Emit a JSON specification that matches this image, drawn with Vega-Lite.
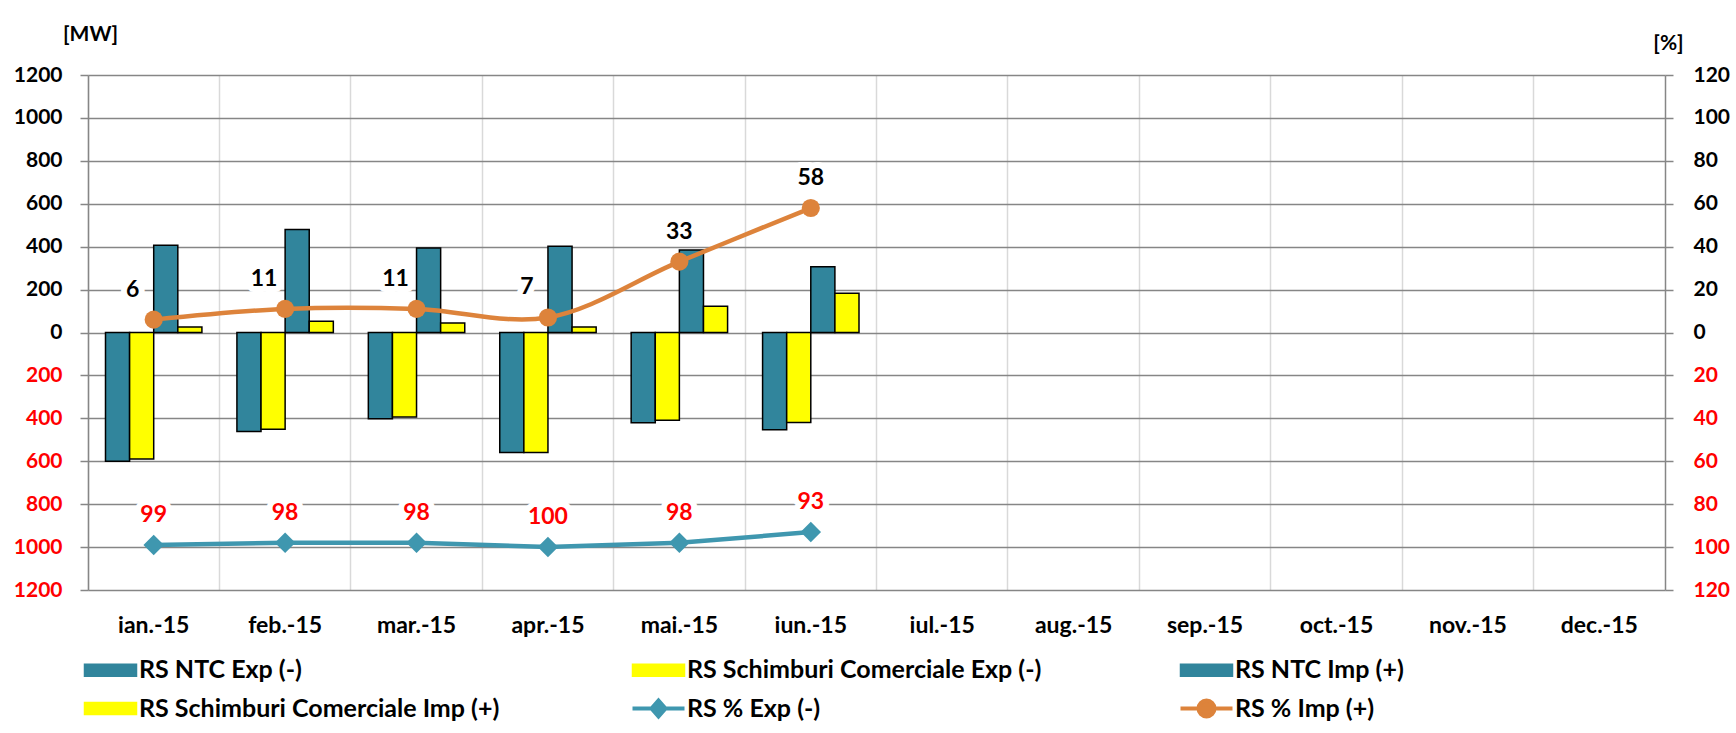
{
  "$schema": "https://vega.github.io/schema/vega-lite/v6.json",
  "width": 1577,
  "height": 515,
  "autosize": {"type": "none"},
  "padding": {"left": 88, "top": 75, "right": 71, "bottom": 143},
  "background": "white",
  "config": {
    "view": {"stroke": null},
    "font": "Lato",
    "axis": {"labelFont": "Lato", "titleFont": "Lato", "labelFontWeight": "bold", "titleFontWeight": "bold"},
    "legend": {"title": null, "orient": "none", "legendX": 10, "legendY": 581, "direction": "horizontal", "columns": 3, "gridAlign": "all", "columnPadding": 124, "rowPadding": 7, "symbolSize": 400, "symbolType": "M-2.6,-0.6H2.6V0.6H-2.6Z", "symbolStrokeColor": "black", "symbolStrokeWidth": 1.5, "labelFont": "Lato", "labelFontSize": 25, "labelFontWeight": "bold", "labelColor": "black", "labelOffset": 16, "labelLimit": 0, "padding": 0}
  },
  "datasets": {
    "bars": [
      {"month": "ian.-15", "series": "RS NTC Exp (-)", "mw": -600},
      {"month": "ian.-15", "series": "RS Schimburi Comerciale Exp (-)", "mw": -590},
      {"month": "ian.-15", "series": "RS NTC Imp (+)", "mw": 407},
      {"month": "ian.-15", "series": "RS Schimburi Comerciale Imp (+)", "mw": 26},
      {"month": "feb.-15", "series": "RS NTC Exp (-)", "mw": -461},
      {"month": "feb.-15", "series": "RS Schimburi Comerciale Exp (-)", "mw": -451},
      {"month": "feb.-15", "series": "RS NTC Imp (+)", "mw": 480},
      {"month": "feb.-15", "series": "RS Schimburi Comerciale Imp (+)", "mw": 52},
      {"month": "mar.-15", "series": "RS NTC Exp (-)", "mw": -402},
      {"month": "mar.-15", "series": "RS Schimburi Comerciale Exp (-)", "mw": -394},
      {"month": "mar.-15", "series": "RS NTC Imp (+)", "mw": 394},
      {"month": "mar.-15", "series": "RS Schimburi Comerciale Imp (+)", "mw": 44},
      {"month": "apr.-15", "series": "RS NTC Exp (-)", "mw": -559},
      {"month": "apr.-15", "series": "RS Schimburi Comerciale Exp (-)", "mw": -559},
      {"month": "apr.-15", "series": "RS NTC Imp (+)", "mw": 402},
      {"month": "apr.-15", "series": "RS Schimburi Comerciale Imp (+)", "mw": 26},
      {"month": "mai.-15", "series": "RS NTC Exp (-)", "mw": -420},
      {"month": "mai.-15", "series": "RS Schimburi Comerciale Exp (-)", "mw": -409},
      {"month": "mai.-15", "series": "RS NTC Imp (+)", "mw": 385},
      {"month": "mai.-15", "series": "RS Schimburi Comerciale Imp (+)", "mw": 122},
      {"month": "iun.-15", "series": "RS NTC Exp (-)", "mw": -453},
      {"month": "iun.-15", "series": "RS Schimburi Comerciale Exp (-)", "mw": -419},
      {"month": "iun.-15", "series": "RS NTC Imp (+)", "mw": 306},
      {"month": "iun.-15", "series": "RS Schimburi Comerciale Imp (+)", "mw": 183}
    ],
    "pct": [
      {"month": "ian.-15", "series": "RS % Exp (-)", "pct": -99, "label": "99"},
      {"month": "feb.-15", "series": "RS % Exp (-)", "pct": -98, "label": "98"},
      {"month": "mar.-15", "series": "RS % Exp (-)", "pct": -98, "label": "98"},
      {"month": "apr.-15", "series": "RS % Exp (-)", "pct": -100, "label": "100"},
      {"month": "mai.-15", "series": "RS % Exp (-)", "pct": -98, "label": "98"},
      {"month": "iun.-15", "series": "RS % Exp (-)", "pct": -93, "label": "93"},
      {"month": "ian.-15", "series": "RS % Imp (+)", "pct": 6, "label": "6"},
      {"month": "feb.-15", "series": "RS % Imp (+)", "pct": 11, "label": "11"},
      {"month": "mar.-15", "series": "RS % Imp (+)", "pct": 11, "label": "11"},
      {"month": "apr.-15", "series": "RS % Imp (+)", "pct": 7, "label": "7"},
      {"month": "mai.-15", "series": "RS % Imp (+)", "pct": 33, "label": "33"},
      {"month": "iun.-15", "series": "RS % Imp (+)", "pct": 58, "label": "58"}
    ]
  },
  "encoding": {
    "x": {
      "field": "month", "type": "nominal", "title": null,
      "scale": {"domain": ["ian.-15","feb.-15","mar.-15","apr.-15","mai.-15","iun.-15","iul.-15","aug.-15","sep.-15","oct.-15","nov.-15","dec.-15"], "paddingInner": 0, "paddingOuter": 0},
      "axis": {"orient": "bottom", "bandPosition": 0, "grid": true, "gridColor": "#D9D9D9", "gridWidth": 1.5, "ticks": false, "domain": false, "labelAngle": 0, "labelPadding": 24, "labelFontSize": 23, "labelColor": "black", "labelFontWeight": "bold"}
    }
  },
  "layer": [
    {
      "data": {"name": "bars"},
      "mark": {"type": "bar", "stroke": "black", "strokeWidth": 1.5},
      "encoding": {
        "xOffset": {"field": "series", "type": "nominal", "scale": {"domain": ["RS NTC Exp (-)", "RS Schimburi Comerciale Exp (-)", "RS NTC Imp (+)", "RS Schimburi Comerciale Imp (+)"], "paddingInner": 0, "paddingOuter": 0.726}},
        "y": {
          "field": "mw", "type": "quantitative",
          "scale": {"domain": [-1200, 1200], "nice": false},
          "axis": {"orient": "left", "values": [-1200,-1000,-800,-600,-400,-200,0,200,400,600,800,1000,1200], "labelExpr": "'' + abs(datum.value)", "labelColor": {"condition": {"test": "datum.value < 0", "value": "#FF0000"}, "value": "black"}, "labelFontSize": 21, "labelPadding": 18, "grid": true, "gridColor": "#868686", "gridWidth": 1.5, "domainColor": "#868686", "domainWidth": 1.5, "tickColor": "#868686", "tickWidth": 1.5, "tickSize": 8, "title": "[MW]", "titleAngle": 0, "titleX": 2, "titleY": -41, "titleAlign": "center", "titleBaseline": "middle", "titleFontSize": 21, "titleColor": "black"}
        },
        "color": {
          "field": "series", "type": "nominal",
          "scale": {"domain": ["RS NTC Exp (-)", "RS Schimburi Comerciale Exp (-)", "RS NTC Imp (+)", "RS Schimburi Comerciale Imp (+)", "RS % Exp (-)", "RS % Imp (+)"], "range": ["#31859C", "#FFFF00", "#31859C", "#FFFF00", "#3F97AF", "#DD833B"]},
          "legend": {"encode": {"symbols": {"update": {"shape": {"signal": "datum.value == 'RS % Exp (-)' ? 'M-2.6,0H2.6M0,-0.8L0.7,0L0,0.8L-0.7,0Z' : (datum.value == 'RS % Imp (+)' ? 'M-2.6,0H2.6M-0.8,0A0.8,0.8 0 1,0 0.8,0A0.8,0.8 0 1,0 -0.8,0Z' : 'M-2.6,-0.6H2.6V0.6H-2.6Z')"}, "stroke": {"signal": "datum.value == 'RS % Exp (-)' ? '#3F97AF' : (datum.value == 'RS % Imp (+)' ? '#DD833B' : 'black')"}, "strokeWidth": {"signal": "datum.value == 'RS % Exp (-)' || datum.value == 'RS % Imp (+)' ? 4 : 1.5"}}}}}
        }
      }
    },
    {
      "data": {"name": "pct"},
      "encoding": {
        "y": {
          "field": "pct", "type": "quantitative",
          "scale": {"domain": [-120, 120], "nice": false},
          "axis": {"orient": "right", "values": [-120,-100,-80,-60,-40,-20,0,20,40,60,80,100,120], "labelExpr": "'' + abs(datum.value)", "labelColor": {"condition": {"test": "datum.value < 0", "value": "#FF0000"}, "value": "black"}, "labelFontSize": 21, "labelPadding": 20, "grid": false, "domainColor": "#868686", "domainWidth": 1.5, "tickColor": "#868686", "tickWidth": 1.5, "tickSize": 8, "title": "[%]", "titleAngle": 0, "titleX": 3, "titleY": -32, "titleAlign": "center", "titleBaseline": "middle", "titleFontSize": 21, "titleColor": "black"}
        },
        "color": {
          "field": "series", "type": "nominal",
          "scale": {"domain": ["RS NTC Exp (-)", "RS Schimburi Comerciale Exp (-)", "RS NTC Imp (+)", "RS Schimburi Comerciale Imp (+)", "RS % Exp (-)", "RS % Imp (+)"], "range": ["#31859C", "#FFFF00", "#31859C", "#FFFF00", "#3F97AF", "#DD833B"]},
          "legend": {"encode": {"symbols": {"update": {"shape": {"signal": "datum.value == 'RS % Exp (-)' ? 'M-2.6,0H2.6M0,-0.8L0.7,0L0,0.8L-0.7,0Z' : (datum.value == 'RS % Imp (+)' ? 'M-2.6,0H2.6M-0.8,0A0.8,0.8 0 1,0 0.8,0A0.8,0.8 0 1,0 -0.8,0Z' : 'M-2.6,-0.6H2.6V0.6H-2.6Z')"}, "stroke": {"signal": "datum.value == 'RS % Exp (-)' ? '#3F97AF' : (datum.value == 'RS % Imp (+)' ? '#DD833B' : 'black')"}, "strokeWidth": {"signal": "datum.value == 'RS % Exp (-)' || datum.value == 'RS % Imp (+)' ? 4 : 1.5"}}}}}
        }
      },
      "layer": [
        {
          "transform": [{"filter": {"field": "series", "equal": "RS % Imp (+)"}}],
          "mark": {"type": "line", "interpolate": "catmull-rom", "strokeWidth": 4.5}
        },
        {
          "transform": [{"filter": {"field": "series", "equal": "RS % Exp (-)"}}],
          "mark": {"type": "line", "strokeWidth": 4.5}
        },
        {
          "transform": [{"filter": {"field": "series", "equal": "RS % Imp (+)"}}],
          "mark": {"type": "point", "shape": "circle", "filled": true, "size": 330, "opacity": 1}
        },
        {
          "transform": [{"filter": {"field": "series", "equal": "RS % Exp (-)"}}],
          "mark": {"type": "point", "shape": "diamond", "filled": true, "size": 420, "opacity": 1}
        },
        {
          "transform": [{"filter": {"field": "month", "oneOf": ["ian.-15", "feb.-15", "mar.-15", "apr.-15"]}}, {"filter": {"field": "series", "equal": "RS % Imp (+)"}}],
          "mark": {"type": "text", "dy": -30, "dx": -21, "baseline": "middle", "font": "Lato", "fontSize": 23, "fontWeight": "bold", "stroke": "white", "strokeWidth": 12, "strokeJoin": "round"},
          "encoding": {"text": {"field": "label"}, "color": {"value": "white"}}
        },
        {
          "transform": [{"filter": {"not": {"and": [{"field": "month", "oneOf": ["ian.-15", "feb.-15", "mar.-15", "apr.-15"]}, {"field": "series", "equal": "RS % Imp (+)"}]}}}],
          "mark": {"type": "text", "dy": -30, "baseline": "middle", "font": "Lato", "fontSize": 23, "fontWeight": "bold", "stroke": "white", "strokeWidth": 12, "strokeJoin": "round"},
          "encoding": {"text": {"field": "label"}, "color": {"value": "white"}}
        },
        {
          "transform": [{"filter": {"field": "month", "oneOf": ["ian.-15", "feb.-15", "mar.-15", "apr.-15"]}}, {"filter": {"field": "series", "equal": "RS % Imp (+)"}}],
          "mark": {"type": "text", "dy": -30, "dx": -21, "baseline": "middle", "font": "Lato", "fontSize": 23, "fontWeight": "bold"},
          "encoding": {"text": {"field": "label"}, "color": {"value": "black"}}
        },
        {
          "transform": [{"filter": {"field": "month", "oneOf": ["mai.-15", "iun.-15"]}}, {"filter": {"field": "series", "equal": "RS % Imp (+)"}}],
          "mark": {"type": "text", "dy": -30, "baseline": "middle", "font": "Lato", "fontSize": 23, "fontWeight": "bold"},
          "encoding": {"text": {"field": "label"}, "color": {"value": "black"}}
        },
        {
          "transform": [{"filter": {"field": "series", "equal": "RS % Exp (-)"}}],
          "mark": {"type": "text", "dy": -30, "baseline": "middle", "font": "Lato", "fontSize": 23, "fontWeight": "bold"},
          "encoding": {"text": {"field": "label"}, "color": {"value": "#FF0000"}}
        }
      ]
    }
  ],
  "resolve": {"scale": {"y": "independent"}}
}
